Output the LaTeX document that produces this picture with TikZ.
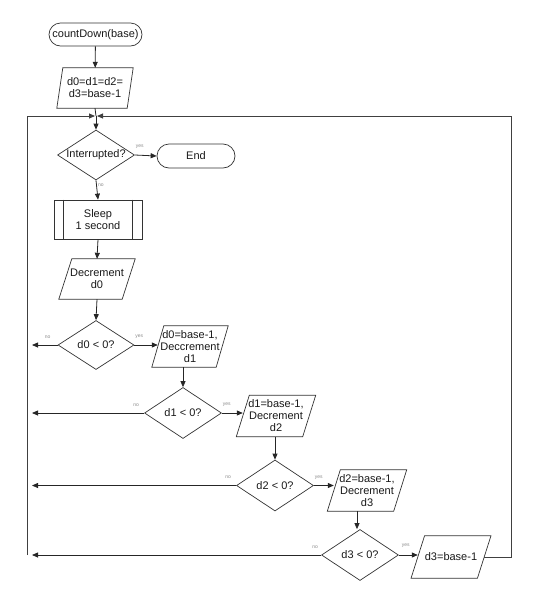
\documentclass[tikz,border=0pt]{standalone}
\usepackage{fontspec}
\setmainfont{Liberation Sans}
\usetikzlibrary{shapes.geometric,arrows.meta}
\newcommand{\parashape}[2]{\draw[shapeline] ([xshift={#2*0.5pt}]#1.north west) -- ([xshift={#2*0.5pt}]#1.north east) -- ([xshift={-#2*0.5pt}]#1.south east) -- ([xshift={-#2*0.5pt}]#1.south west) -- cycle;}
\begin{document}
\begin{tikzpicture}[x=1pt,y=-1pt,
  every node/.style={font=\fontsize{11}{12}\selectfont, text=black!90, align=center, inner sep=0pt},
  shapeline/.style={draw=black!80, line width=0.7pt},
  term/.style={shapeline, rounded corners=11.5pt},
  para/.style={rectangle},
  dia/.style={diamond, shapeline, aspect=1.5},
  proc/.style={rectangle, shapeline},
  arr/.style={draw=black!85, line width=0.8pt, -{Triangle[length=6pt,width=5pt]}},
  plain/.style={draw=black!85, line width=0.8pt},
  loopl/.style={draw=black!60, line width=0.9pt},
  lbl/.style={font=\fontsize{5}{5.5}\selectfont, text=black!45}]
\useasboundingbox (0,0) rectangle (542,600);

\node[term, minimum width=93pt, minimum height=23pt] (start) at (95.5,34.5) {countDown(base)};
\node[para, minimum width=70pt, minimum height=40pt] (init) at (95,88) {d0=d1=d2=\\d3=base-1};
\parashape{init}{6}
\coordinate (m) at (96,116);
\node[dia, minimum width=77pt, minimum height=50pt] (intr) at (96,155) {Interrupted?};
\node[term, minimum width=78pt, minimum height=24pt, rounded corners=12pt] (end) at (196,156) {End};
\node[proc, minimum width=88pt, minimum height=39pt] (sleep) at (98,219.5) {Sleep\\1 second};
\draw[shapeline] ([xshift=10pt]sleep.north west) -- ([xshift=10pt]sleep.south west);
\draw[shapeline] ([xshift=-10pt]sleep.north east) -- ([xshift=-10pt]sleep.south east);
\node[para, minimum width=63pt, minimum height=40pt] (dec0) at (97,279) {Decrement\\d0};
\parashape{dec0}{13}
\node[dia, minimum width=76pt, minimum height=49pt] (d0) at (96,345) {d0 {\textless} 0?};
\node[para, minimum width=64pt, minimum height=41pt] (p1) at (190,346.5) {d0=base-1,\\Deccrement\\d1};
\parashape{p1}{12}
\node[dia, minimum width=77pt, minimum height=51pt] (d1) at (183,413) {d1 {\textless} 0?};
\node[para, minimum width=66pt, minimum height=41pt] (p2) at (276,416) {d1=base-1,\\Decrement\\d2};
\parashape{p2}{13}
\node[dia, minimum width=77pt, minimum height=51pt] (d2) at (275,485.5) {d2 {\textless} 0?};
\node[para, minimum width=66pt, minimum height=41pt] (p3) at (367,490.5) {d2=base-1,\\Decrement\\d3};
\parashape{p3}{13}
\node[dia, minimum width=77pt, minimum height=51pt] (d3) at (360,555) {d3 {\textless} 0?};
\node[para, minimum width=66pt, minimum height=42pt] (p4) at (451,557) {d3=base-1};
\parashape{p4}{13.5}

% main flow
\draw[arr] (start) -- (init);
\draw[plain] (init.south) -- (m);
\draw[arr] (m) -- (intr.north);
\draw[arr] (intr.east) -- (end.west);
\draw[arr] (intr.south) -- (sleep.north);
\draw[arr] (sleep.south) -- (dec0.north);
\draw[arr] (dec0.south) -- (d0.north);
\draw[arr] (d0.east) -- (d0.east -| p1.west);
\draw[arr] (p1.south -| d1.north) -- (d1.north);
\draw[arr] (d1.east) -- (d1.east -| p2.west);
\draw[arr] (p2.south -| d2.north) -- (d2.north);
\draw[arr] (d2.east) -- (d2.east -| p3.west);
\draw[arr] ([xshift=-3pt]p3.south -| d3.north) -- ([xshift=-3pt]d3.north);
\draw[arr] (d3.east) -- (d3.east -| p4.west);

% no branches
\coordinate (lx) at (32,0);
\draw[arr] (d0.west) -- (d0.west -| lx);
\draw[arr] (d1.west) -- (d1.west -| lx);
\draw[arr] (d2.west) -- (d2.west -| lx);
\draw[arr] (d3.west) -- (d3.west -| lx);

% loop back
\coordinate (lb) at (27,555);
\coordinate (lt) at (27,116);
\coordinate (rb) at (511,557);
\coordinate (rt) at (511,116);
\draw[loopl, -{Triangle[length=6pt,width=5pt]}, draw=black!75] (lb) -- (lt) -- ([xshift=-1pt]m);
\draw[loopl, -{Triangle[length=6pt,width=5pt]}, draw=black!75] (p4.east) -- (p4.east -| rb) -- (rt) -- ([xshift=1pt]m);

% labels
\node[lbl] (y0) at ([shift={(5,-8)}]intr.east) {yes};
\node[lbl, anchor=west] (n0) at ([shift={(2,5)}]intr.south) {no};
\node[lbl] (y1) at ([shift={(5,-8)}]d0.east) {yes};
\node[lbl] (n1) at ([shift={(-10,-8)}]d0.west) {no};
\node[lbl] (y2) at ([shift={(5,-8)}]d1.east) {yes};
\node[lbl] (n2) at ([shift={(-8,-8)}]d1.west) {no};
\node[lbl] (y3) at ([shift={(5,-8)}]d2.east) {yes};
\node[lbl] (n3) at ([shift={(-8,-8)}]d2.west) {no};
\node[lbl] (y4) at ([shift={(7,-9)}]d3.east) {yes};
\node[lbl] (n4) at ([shift={(-6,-8)}]d3.west) {no};
\end{tikzpicture}
\end{document}
